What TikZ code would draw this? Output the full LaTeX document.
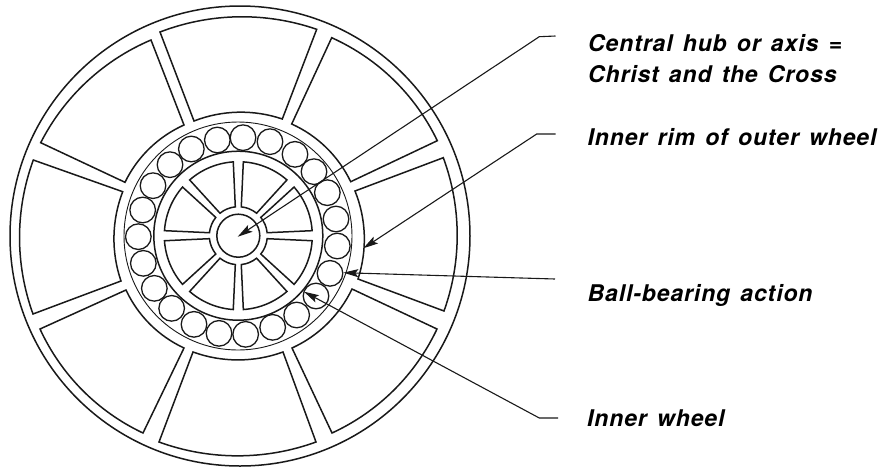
\documentclass[tikz,border=0pt]{standalone}
\usepackage{fontspec}
\setmainfont[LetterSpace=3.8,WordSpace=1.4]{TeX Gyre Heros}
\usetikzlibrary{arrows.meta}
\tikzset{
  wheel/.style={line width=1.5pt,draw=black!90,line join=miter},
  thinrim/.style={line width=0.9pt,draw=black!90},
  ball/.style={line width=1.3pt,draw=black!90},
  leader/.style={line width=1.1pt,draw=black!90},
  tipped/.style={leader,-{Stealth[length=15pt,width=8pt,inset=3pt]}},
  oarc/.style={bend left=20,looseness=.88},
  iarc/.style={bend right=20,looseness=.88},
  lab/.style={anchor=base west,inner sep=0pt,font=\fontsize{23}{27}\selectfont\bfseries\itshape}
}
\begin{document}
\begin{tikzpicture}[x=1pt,y=-1pt]
\useasboundingbox (0,0) rectangle (886,467);
% outer wheel
\draw[wheel] (240,236) circle[radius=230];
\foreach \a/\b/\c/\d/\e/\f/\g/\h in {
 160/32/316.7/29.3/282.3/119/194/121,
 331.7/37.7/437.3/140.7/350.7/181.7/291.7/124,
 443.3/157.7/444/311/358/279/355/191,
 437/329/332/433/292/348/352/289,
 316/442/159/442/193/352/283/352,
 143/433/40/329/126/290/184/348,
 33/314/33.3/160/122.7/191.7/121/281,
 40.7/142.7/151/40/184/125/125/182.3}
 \draw[wheel] (\a,\b) to[oarc] (\c,\d) -- (\e,\f) to[iarc] (\g,\h) -- cycle;
% bearing race
\draw[thinrim] (238,236) circle[radius=114];
\foreach \x/\y in {369/143,292/150,214/177,150/224,99/287,68/360,55/440,70/520,103/595,155/655,222/703,297/730,377/733,458/712,530/675,588/618,630/550,652/468,648/387,622/308,582/245,525/193,450/155}
 \draw[ball] ({120+\x/3},{90+\y/3}) circle[radius=12.8];
% inner wheel
\draw[wheel] (238.3,235.7) circle[radius=84.5];
\begin{scope}[shift={(238.3,235.7)}]
\foreach \s in {0,45,...,315}{
 \pgfmathsetmacro{\oa}{\s+3.9}
 \pgfmathsetmacro{\ob}{\s+45-3.9}
 \pgfmathsetmacro{\ia}{\s+45-5.9}
 \pgfmathsetmacro{\ib}{\s+5.9}
 \draw[wheel] (\oa:74) arc[start angle=\oa,end angle=\ob,radius=74] -- (\ia:29) arc[start angle=\ia,end angle=\ib,radius=29] -- cycle;
}
\end{scope}
\draw[wheel] (238.3,235.7) circle[radius=21.5];
% labels
\node[lab] (hub) at (588,51.5) {Central hub or axis\ =};
\node[lab] (hubb) at (588,82.5) {Christ and the Cross};
\node[lab] (rim) at (587.5,145) {Inner rim of outer wheel};
\node[lab] (bb) at (587.5,301) {Ball-bearing action};
\node[lab] (iw) at (587,426.5) {Inner wheel};
% leaders
\coordinate (hubtick) at (555.5,36);
\coordinate (hubbend) at (539.3,36.7);
\coordinate (hubtip) at (237.7,236.7);
\coordinate (rimtick) at (555.5,134);
\coordinate (rimbend) at (536.7,134);
\coordinate (rimtip) at (363.3,248.3);
\coordinate (bbtick) at (555,279);
\coordinate (bbtip) at (343.3,272.7);
\coordinate (iwtick) at (558,418);
\coordinate (iwbend) at (539.3,418);
\coordinate (iwtip) at (304,291.7);
\draw[tipped] (hubtick) -- (hubbend) -- (hubtip);
\draw[tipped] (rimtick) -- (rimbend) -- (rimtip);
\draw[tipped] (bbtick) -- (bbtip);
\draw[tipped] (iwtick) -- (iwbend) -- (iwtip);
\end{tikzpicture}
\end{document}
